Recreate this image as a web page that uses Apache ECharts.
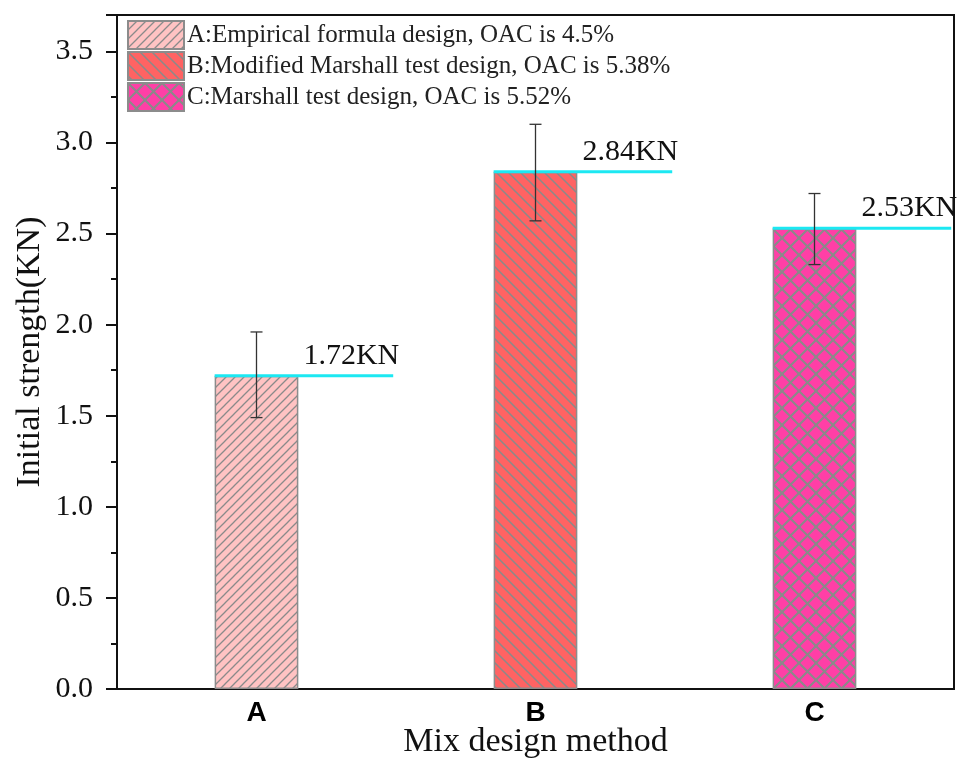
<!DOCTYPE html>
<html>
<head>
<meta charset="utf-8">
<script src="https://cdn.jsdelivr.net/npm/echarts@6/dist/echarts.min.js"></script>
<style>html,body{margin:0;padding:0;background:#fff}#c{width:971px;height:776px}</style>
</head>
<body>
<div id="c"></div>
<script>
// ---- data ----
const categories = ['A', 'B', 'C'];
const seriesNames = [
  'A:Empirical formula design, OAC is 4.5%',
  'B:Modified Marshall test design, OAC is 5.38%',
  'C:Marshall test design, OAC is 5.52%'
];
const strengthValues = [1.72, 2.84, 2.53];
const errorLow = [1.49, 2.57, 2.33];
const errorHigh = [1.96, 3.10, 2.72];
const valueLabels = ['1.72KN', '2.84KN', '2.53KN'];

// ---- patterns ----
function hatch(fill, kind, s, lw) {
  const c = document.createElement('canvas');
  c.width = s; c.height = s;
  const g = c.getContext('2d');
  g.fillStyle = fill; g.fillRect(0, 0, s, s);
  g.strokeStyle = '#8a8a8a'; g.lineWidth = lw;
  const e = 3;
  function fwd() { // "/"
    g.beginPath();
    g.moveTo(-e, s + e); g.lineTo(s + e, -e);
    g.moveTo(-e, e); g.lineTo(e, -e);
    g.moveTo(s - e, s + e); g.lineTo(s + e, s - e);
    g.stroke();
  }
  function back() { // "\"
    g.beginPath();
    g.moveTo(-e, -e); g.lineTo(s + e, s + e);
    g.moveTo(s - e, -e); g.lineTo(s + e, e);
    g.moveTo(-e, s - e); g.lineTo(e, s + e);
    g.stroke();
  }
  if (kind === 'f') fwd();
  if (kind === 'b') back();
  if (kind === 'x') { fwd(); back(); }
  return { image: c, repeat: 'repeat' };
}
const patterns = [
  hatch('#ffc3c3', 'f', 9, 1.3),
  hatch('#ff6363', 'b', 12, 1.5),
  hatch('#ff3fa6', 'x', 17, 2)
];

const chart = echarts.init(document.getElementById('c'));
const serif = 'Liberation Serif';

const barSeries = seriesNames.map((name, i) => ({
  name: name,
  type: 'bar',
  stack: 'all',
  barWidth: '30%',
  data: categories.map((c, j) => (j === i ? strengthValues[j] : '-')),
  itemStyle: { color: patterns[i], borderColor: '#8c8c8c', borderWidth: 1.5 },
  emphasis: { disabled: true },
  z: 2
}));

const errorSeries = {
  type: 'custom',
  name: 'err',
  silent: true,
  z: 5,
  data: categories.map((c, i) => [i, errorLow[i], errorHigh[i]]),
  renderItem: function (params, api) {
    const lo = api.coord([api.value(0), api.value(1)]);
    const hi = api.coord([api.value(0), api.value(2)]);
    const x = lo[0], cw = 6;
    const st = { stroke: '#333', lineWidth: 1.3 };
    return {
      type: 'group',
      children: [
        { type: 'line', shape: { x1: x, y1: lo[1], x2: x, y2: hi[1] }, style: st },
        { type: 'line', shape: { x1: x - cw, y1: lo[1], x2: x + cw, y2: lo[1] }, style: st },
        { type: 'line', shape: { x1: x - cw, y1: hi[1], x2: x + cw, y2: hi[1] }, style: st }
      ]
    };
  }
};

const levelSeries = {
  type: 'custom',
  name: 'level',
  silent: true,
  z: 4,
  data: categories.map((c, i) => [i, strengthValues[i]]),
  renderItem: function (params, api) {
    const p = api.coord([api.value(0), api.value(1)]);
    const band = api.size([1, 0])[0];
    const x1 = p[0] - band * 0.15;
    const x2 = p[0] + band * 0.49;
    return {
      type: 'group',
      children: [
        { type: 'line', shape: { x1: x1, y1: p[1], x2: x2, y2: p[1] }, style: { stroke: '#1ce8f2', lineWidth: 3 } },
        { type: 'text', x: x2 + 6, y: p[1] - 5,
          style: { text: valueLabels[params.dataIndex], fontFamily: serif, fontSize: 30, fill: '#111', align: 'right', verticalAlign: 'bottom' } }
      ]
    };
  }
};

chart.setOption({
  animation: false,
  backgroundColor: '#fff',
  grid: { left: 117, right: 17, top: 15, bottom: 87, show: true, borderColor: '#111', borderWidth: 2, outerBoundsMode: 'none', containLabel: false },
  legend: {
    data: seriesNames,
    orient: 'vertical',
    left: 122, top: 15,
    itemWidth: 56, itemHeight: 28, itemGap: 1,
    icon: 'rect',
    selectedMode: false,
    textStyle: { fontFamily: serif, fontSize: 25, lineHeight: 26, color: '#222', padding: [0, 0, 0, -2] }
  },
  xAxis: {
    type: 'category',
    data: categories,
    axisLine: { lineStyle: { color: '#111', width: 2 } },
    axisTick: { show: false },
    axisLabel: { fontFamily: 'Liberation Sans', fontWeight: 'bold', fontSize: 28, color: '#000', margin: 10 },
    name: 'Mix design method',
    nameLocation: 'middle',
    nameGap: 36,
    nameMoveOverlap: false,
    nameTextStyle: { fontFamily: serif, fontSize: 34, color: '#111' }
  },
  yAxis: {
    type: 'value',
    min: 0, max: 3.7, interval: 0.5,
    splitLine: { show: false },
    axisLine: { show: true, lineStyle: { color: '#111', width: 2 } },
    axisTick: { show: true, inside: false, length: 11, lineStyle: { color: '#111', width: 2 } },
    minorTick: { show: true, splitNumber: 2, length: 6, lineStyle: { color: '#111', width: 2 } },
    axisLabel: {
      fontFamily: serif, fontSize: 30, color: '#111', margin: 24, showMaxLabel: false,
      formatter: function (v) { return Math.abs(v / 0.5 - Math.round(v / 0.5)) < 1e-9 ? v.toFixed(1) : ''; }
    },
    name: 'Initial strength(KN)',
    nameLocation: 'middle',
    nameGap: 70,
    nameMoveOverlap: false,
    nameTextStyle: { fontFamily: serif, fontSize: 34, color: '#111' }
  },
  series: barSeries.concat([levelSeries, errorSeries])
});
</script>
</body>
</html>
